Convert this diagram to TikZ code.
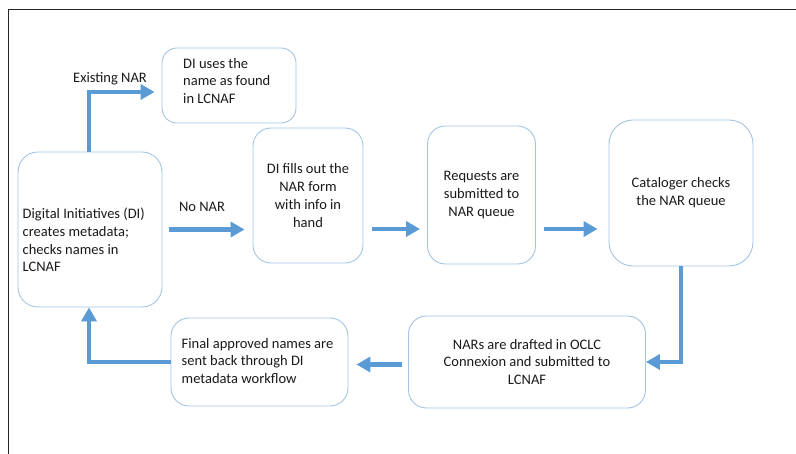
\documentclass[tikz,border=0pt]{standalone}
\usepackage{fontspec}
\setmainfont{Carlito}
\usetikzlibrary{arrows.meta,calc}
\definecolor{boxline}{HTML}{A4C4E4}
\definecolor{arrblue}{HTML}{5B9BD5}
\definecolor{txtcol}{HTML}{1A1A1A}
\tikzset{
  box/.style={draw=boxline, line width=0.9pt, rounded corners=18pt, fill=white, inner sep=0pt},
  txt/.style={text=txtcol, font=\fontsize{14.5}{17.8}\selectfont, inner sep=0pt},
  arr/.style={draw=arrblue, line width=4.6pt, -{Triangle[length=14pt,width=15pt]}},
}
\begin{document}
\begin{tikzpicture}[x=1pt,y=-1pt]
\useasboundingbox (0,0) rectangle (796,454);
\fill[white] (0,0) rectangle (796,454);
% frame
\draw[line width=1.5pt, black!85] (8.5,454) -- (8.5,9.5) -- (796,9.5);

% boxes
\node[box, rounded corners=20pt, minimum width=144pt, minimum height=155pt] (b1) at (90,229.5) {};
\node[txt, anchor=west, align=left] (t1) at (22.5,240) {Digital Initiatives (DI)\\creates metadata;\\checks names in\\LCNAF};

\node[box, rounded corners=15pt, minimum width=134pt, minimum height=75pt] (b2) at (229,85.5) {};
\node[txt, anchor=west, align=left] (t2) at (183,81) {DI uses the\\name as found\\in LCNAF};

\node[box, minimum width=110pt, minimum height=135pt, txt, align=center] (b3) at (308,195.5) {DI fills out the\\NAR form\\with info in\\hand};

\node[box, minimum width=108pt, minimum height=138pt, txt, align=center] (b4) at (481.5,195) {Requests are\\submitted to\\NAR queue};

\node[box, rounded corners=24pt, minimum width=144pt, minimum height=146pt, txt, align=center] (b5) at (681,193) {Cataloger checks\\the NAR queue};

\node[box, minimum width=237pt, minimum height=92pt, txt, align=center] (b6) at (527,362) {NARs are drafted in OCLC\\Connexion and submitted to\\LCNAF};

\node[box, minimum width=177pt, minimum height=88pt] (b7) at (259.5,362) {};
\node[txt, anchor=west, align=left] (t7) at (181.5,361) {Final approved names are\\sent back through DI\\metadata workflow};

% labels
\node[txt] (lex) at (110,79) {Existing NAR};
\node[txt] (lno) at (202,207) {No NAR};

% connectors
\draw[arr, shorten >=7pt] ([xshift=-1pt]b1.north) |- ([yshift=-6.5pt]b2.west);
\draw[arr, shorten <=7pt, shorten >=8pt] (b1.east) -- (b1.east -| b3.west);
\draw[arr, shorten <=9pt, shorten >=7pt] ([yshift=-33.5pt]b3.east) -- ([yshift=-34pt]b4.west);
\draw[arr, shorten <=8pt, shorten >=11pt] ([yshift=-34pt]b4.east) -- ([yshift=-36pt]b5.west);
\draw[arr] (b5.south) |- (b6.east);
\draw[arr, shorten <=6pt, shorten >=8pt] ([yshift=-2.5pt]b6.west) -- ([yshift=-2.5pt]b7.east);
\draw[arr] (b7.west) -| ([xshift=-1pt]b1.south);
\end{tikzpicture}
\end{document}
